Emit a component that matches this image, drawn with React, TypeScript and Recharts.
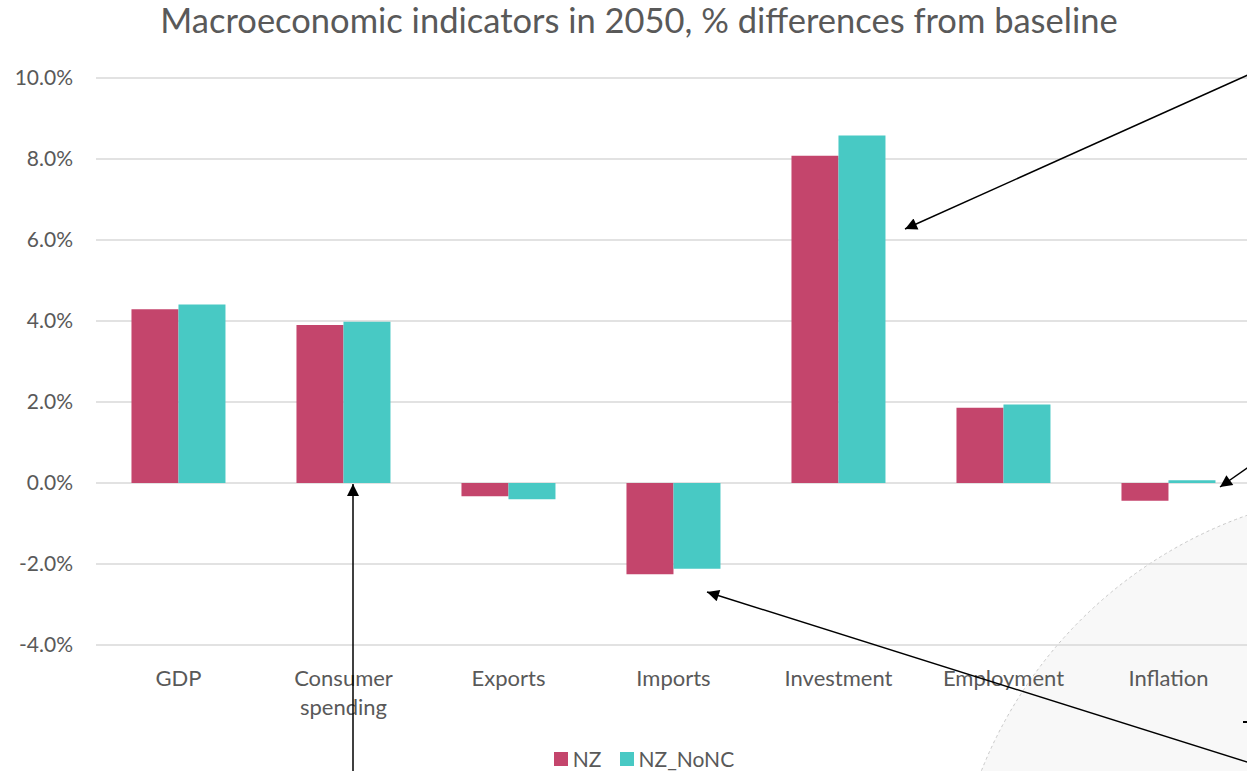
import React from 'react';
import { BarChart, Bar, XAxis, YAxis, CartesianGrid, Legend } from 'recharts';

const categories = ['GDP', 'Consumer spending', 'Exports', 'Imports', 'Investment', 'Employment', 'Inflation'];
const nzValues = [4.29, 3.9, -0.33, -2.25, 8.08, 1.86, -0.44];
const nzNoNCValues = [4.41, 3.98, -0.4, -2.12, 8.58, 1.94, 0.07];
const yTicks = [-4, -2, 0, 2, 4, 6, 8, 10];
const seriesNames = ['NZ', 'NZ_NoNC'];
const seriesColors = ['#C4456C', '#48C9C4'];
const title = 'Macroeconomic indicators in 2050, % differences from baseline';

const data = categories.map((c, i) => ({ name: c, NZ: nzValues[i], NZ_NoNC: nzNoNCValues[i] }));

const FONT = 'Lato, "Open Sans", sans-serif';
const TEXT = '#595959';

const XTick = (props: any) => {
  const { x, y, payload } = props;
  const v: string = payload.value;
  const lines = v.length > 12 ? v.split(' ') : [v];
  return (
    <text x={x} y={y} textAnchor="middle" fill={TEXT} fontSize={22} fontFamily={FONT}>
      {lines.map((l, i) => (
        <tspan key={i} x={x} dy={i === 0 ? 33 : 29}>{l}</tspan>
      ))}
    </text>
  );
};

const LegendContent = () => (
  <div style={{ display: 'flex', justifyContent: 'center', alignItems: 'center', marginLeft: 37, marginTop: 5, fontFamily: FONT, fontSize: 21, color: TEXT }}>
    {seriesNames.map((n, i) => (
      <div key={n} style={{ display: 'flex', alignItems: 'center', marginRight: i === 0 ? 18 : 0 }}>
        <div style={{ width: 14, height: 14, background: seriesColors[i], marginRight: 5 }} />
        <span>{n}</span>
      </div>
    ))}
  </div>
);

export default function App() {
  return (
    <div style={{ position: 'absolute', left: 0, top: 0, width: 1247, height: 771, overflow: 'hidden', background: '#fff' }}>
      <svg width={1247} height={771} style={{ position: 'absolute', left: 0, top: 0 }}>
        <circle cx={1395} cy={935} r={445} fill="#f8f8f8" stroke="#c8c8c8" strokeWidth={1} strokeDasharray="3 3" />
      </svg>
      <div style={{ position: 'absolute', left: 0, top: 0 }}>
        <BarChart width={1251} height={771} data={data} margin={{ top: 78, right: 0, left: 0, bottom: 0 }} barCategoryGap="21.5%" barGap={0}>
          <text x={639} y={33} textAnchor="middle" fill={TEXT} fontSize={34.5} fontFamily={FONT}>{title}</text>
          <CartesianGrid vertical={false} stroke="#d9d9d9" strokeWidth={1.5} />
          <XAxis dataKey="name" axisLine={false} tickLine={false} height={96} tick={<XTick />} interval={0} />
          <YAxis domain={[-4, 10]} ticks={yTicks} axisLine={false} tickLine={false} width={96} tickMargin={17}
            tickFormatter={(v: number) => `${v.toFixed(1)}%`}
            tick={{ fill: TEXT, fontSize: 21, fontFamily: FONT }} />
          <Legend verticalAlign="bottom" height={30} content={<LegendContent />} />
          <Bar dataKey="NZ" fill={seriesColors[0]} isAnimationActive={false} />
          <Bar dataKey="NZ_NoNC" fill={seriesColors[1]} isAnimationActive={false} />
        </BarChart>
      </div>
      <svg width={1247} height={771} style={{ position: 'absolute', left: 0, top: 0, pointerEvents: 'none' }}>
        <defs>
          <marker id="ah" viewBox="0 0 10 10" refX={10} refY={5} markerWidth={11} markerHeight={8} markerUnits="strokeWidth" orient="auto">
            <path d="M0,0 L10,5 L0,10 z" fill="#000" />
          </marker>
        </defs>
        <line x1={1250} y1={74} x2={905} y2={229} stroke="#000" strokeWidth={1.5} markerEnd="url(#ah)" />
        <line x1={353} y1={775} x2={353} y2={484} stroke="#000" strokeWidth={1.5} markerEnd="url(#ah)" />
        <line x1={1250} y1={763} x2={707} y2={592} stroke="#000" strokeWidth={1.5} markerEnd="url(#ah)" />
        <line x1={1250} y1={466} x2={1220} y2={487} stroke="#000" strokeWidth={1.5} markerEnd="url(#ah)" />
        <line x1={1243} y1={722} x2={1247} y2={722} stroke="#000" strokeWidth={2} />
      </svg>
    </div>
  );
}
